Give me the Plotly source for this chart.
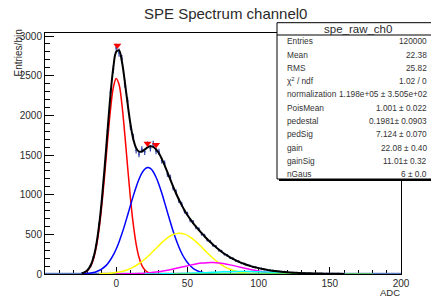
import math
import plotly.graph_objects as go

# ---------------- data ----------------
x_min, x_max = -50, 200
y_max = 3038
x_tick_vals = [0, 50, 100, 150, 200]

bin_x = list(range(-24, 121, 2)) + list(range(124, 161, 4))
data_counts = [12, 21, 55, 103, 212, 361, 628, 941, 1391, 1809, 2290, 2580,
               2850, 2790, 2710, 2400, 2180, 1860, 1725, 1560, 1510, 1572, 1540, 1630,
               1585, 1638, 1550, 1540, 1430, 1392, 1260, 1215, 1085, 1035, 925, 880,
               790, 758, 680, 655, 588, 566, 505, 484, 430, 412, 362, 346,
               300, 288, 249, 236, 204, 195, 166, 159, 136, 129, 110, 105,
               88, 86, 71, 68, 56, 54, 44, 43, 35, 34, 27, 27, 21,
               18, 13, 12, 7, 7, 4, 4, 2, 2, 1]
fit_total = [10.5, 24, 52, 107, 206, 368, 615, 953, 1370, 1826, 2262, 2605,
             2799, 2818, 2678, 2432, 2150, 1892, 1700, 1587, 1543, 1545, 1569, 1596,
             1609, 1602, 1571, 1521, 1452, 1370, 1282, 1192, 1102, 1018, 939, 868,
             802, 744, 691, 642, 597, 555, 515, 476, 439, 404, 370, 339,
             309, 281, 255, 231, 210, 190, 171, 155, 140, 126, 113, 102,
             92, 83, 74, 66, 59, 52, 46.5, 41, 36.6, 32.7, 29, 25.7, 22.7,
             17.1, 14, 11, 8.1, 6.5, 4.9, 3.7, 2.8, 2, 1.3]

ped_x = list(range(-24, 31, 2))
ped_y = [7.7, 19.2, 44.3, 94.5, 186, 338, 569, 885, 1272, 1689, 2073, 2351, 2465,
         2389, 2139, 1770, 1354, 957, 625, 378, 211, 109, 52, 22.8, 9.3, 3.5, 1.2, 0.4]

pe1_x = list(range(-24, 73, 2))
pe1_y = [2.6, 4.5, 7.4, 11.9, 18.8, 29, 43.8, 64.5, 92.8, 130.5, 179.3, 240.7,
         315.7, 404.5, 506, 619, 740, 864, 985, 1097, 1195, 1271, 1320, 1341,
         1330, 1289, 1220, 1129, 1020, 900, 777, 655, 539, 434, 341, 262,
         196, 144, 103, 72, 49, 33, 21.5, 13.7, 8.5, 5.2, 3.1, 1.8, 1.0]

pe2_x = list(range(-12, 105, 4))
pe2_y = [2.25, 4.75, 9.4, 17.8, 31.8, 53.6, 85.7, 129.9, 186.2, 252.7, 324.8, 395.4,
         455.7, 497.3, 514, 502.7, 465.8, 408.5, 339.3, 266.9, 198.8, 140.2, 93.6,
         59.2, 35.4, 20.1, 10.8, 5.5, 2.6, 1.2]

pe3_x = list(range(0, 141, 4))
pe3_y = [0.7, 1.3, 2.35, 4.1, 6.7, 10.7, 16.5, 24.3, 34.5, 47.2, 62.1, 78.6,
         95.7, 112.1, 126.4, 137.1, 143, 143.6, 138.7, 128.9, 115.2, 99.1, 82, 65.3,
         50, 36.9, 26.2, 17.9, 11.7, 7.4, 4.5, 2.6, 1.5, 0.8, 0.4, 0.2]

pe4_x = list(range(20, 161, 5))
pe4_y = [0.4, 0.74, 1.3, 2.2, 3.6, 5.5, 8.0, 11.2, 15.0, 19.1, 23.2, 27, 29.9, 31.6,
         32, 30.8, 28.3, 24.8, 20.8, 16.6, 12.7, 9.2, 6.4, 4.2, 2.7, 1.6, 0.9, 0.5, 0.3]

pe5_x = list(range(40, 181, 10))
pe5_y = [0.13, 0.35, 0.8, 1.6, 2.8, 4.1, 5.2, 5.7, 5.3, 4.3, 2.9, 1.7, 0.9, 0.4, 0.15]

peak_x = [0.8, 22, 28]
peak_y = [2880, 1645, 1630]

stat_labels = ["Entries", "Mean", "RMS", "\u03c7<sup>2</sup> / ndf", "normalization",
               "PoisMean", "pedestal", "pedSig", "gain", "gainSig", "nGaus"]
stat_values = ["120000", "22.38", "25.82", "1.02 / 0", "1.198e+05 \u00b1 3.505e+02",
               "1.001 \u00b1 0.022", "0.1981\u00b1 0.0903", "7.124 \u00b1 0.070",
               "22.08 \u00b1 0.40", "11.01\u00b1 0.32", "6 \u00b1 0.0"]

# ---------------- layout geometry (pixels) ----------------
W, H = 431, 300
L, R, T, B = 45, 30, 33, 26
PW, PH = W - L - R, H - T - B


def px(xp):
    return (xp - L) / PW


def py(yp):
    return (H - B - yp) / PH


FONT = "Liberation Sans, Arial, Helvetica, sans-serif"
TXT = "#2a2a2a"

fig = go.Figure()

comp_colors = ["#ff0000", "#0000ff", "#ffff00", "#ff00ff", "#00ffff", "#59d454"]
comps = [(ped_x, ped_y), (pe1_x, pe1_y), (pe2_x, pe2_y), (pe3_x, pe3_y),
         (pe4_x, pe4_y), (pe5_x, pe5_y)]

fig.add_trace(go.Scatter(x=[x_min, x_max], y=[0, 0], mode="lines",
                         line=dict(color="#5b7cc0", width=2.5), hoverinfo="skip"))

for (cx, cy), col in zip(comps, comp_colors):
    fig.add_trace(go.Scatter(x=cx, y=cy, mode="lines",
                             line=dict(color=col, width=1.5, shape="spline"),
                             hoverinfo="skip"))

fig.add_trace(go.Scatter(x=bin_x, y=data_counts, mode="markers",
                         marker=dict(color="#3347b0", size=2),
                         error_y=dict(type="data", array=[math.sqrt(v) for v in data_counts],
                                      color="#3347b0", thickness=1.2, width=0),
                         hoverinfo="skip"))

fig.add_trace(go.Scatter(x=bin_x, y=fit_total, mode="lines",
                         line=dict(color="black", width=2, shape="spline"),
                         hoverinfo="skip"))

fig.add_trace(go.Scatter(x=peak_x, y=peak_y, mode="markers",
                         marker=dict(symbol="triangle-down", color="#ff0000", size=7),
                         hoverinfo="skip"))

# stats box
shapes = [
    dict(type="rect", xref="paper", yref="paper", x0=px(279), x1=px(440),
         y0=py(181), y1=py(24.5), fillcolor="black", line=dict(width=0)),
    dict(type="rect", xref="paper", yref="paper", x0=px(277), x1=px(438),
         y0=py(179), y1=py(22.7), fillcolor="white", line=dict(color="black", width=1)),
    dict(type="line", xref="paper", yref="paper", x0=px(277), x1=px(438),
         y0=py(35), y1=py(35), line=dict(color="black", width=1)),
]

ann = []
ann.append(dict(text="SPE Spectrum channel0", xref="paper", yref="paper",
                x=px(225), y=py(13), xanchor="center", yanchor="middle", showarrow=False,
                font=dict(family=FONT, size=15, color=TXT)))
ann.append(dict(text="spe_raw_ch0", xref="paper", yref="paper",
                x=px(358), y=py(28.5), xanchor="center", yanchor="middle", showarrow=False,
                font=dict(family=FONT, size=11.5, color=TXT)))
row0, dy = 41.2, 13.3
for i, (lab, val) in enumerate(zip(stat_labels, stat_values)):
    yy = py(row0 + i * dy)
    ann.append(dict(text=lab, xref="paper", yref="paper", x=px(285), y=yy,
                    xanchor="left", yanchor="middle", showarrow=False,
                    font=dict(family=FONT, size=8.3, color="#333333")))
    ann.append(dict(text=val, xref="paper", yref="paper", x=px(429.5), y=yy,
                    xanchor="right", yanchor="middle", showarrow=False,
                    font=dict(family=FONT, size=8.3, color="#333333")))
ann.append(dict(text="Entries/bin", xref="paper", yref="paper", x=px(18), y=py(28),
                xanchor="center", yanchor="top", textangle=-90, showarrow=False,
                font=dict(family=FONT, size=10, color=TXT)))
ann.append(dict(text="ADC", xref="paper", yref="paper", x=px(402), y=py(292),
                xanchor="right", yanchor="middle", showarrow=False,
                font=dict(family=FONT, size=9.5, color=TXT)))

fig.update_layout(
    width=W, height=H,
    margin=dict(l=L, r=R, t=T, b=B, pad=0),
    paper_bgcolor="white", plot_bgcolor="white",
    showlegend=False,
    shapes=shapes, annotations=ann,
    xaxis=dict(range=[x_min, x_max], showgrid=False, zeroline=False,
               showline=True, linecolor="black", linewidth=1, mirror=True,
               ticks="inside", ticklen=7, tickcolor="black",
               tickvals=x_tick_vals, ticktext=[str(v) for v in x_tick_vals],
               minor=dict(dtick=10, tick0=0, ticks="inside", ticklen=4, tickcolor="black"),
               tickfont=dict(family=FONT, size=10, color=TXT), layer="below traces"),
    yaxis=dict(range=[0, y_max], showgrid=False, zeroline=False,
               showline=True, linecolor="black", linewidth=1, mirror=True,
               ticks="inside", ticklen=9, tickcolor="black", dtick=500, tick0=0,
               minor=dict(dtick=100, ticks="inside", ticklen=5, tickcolor="black"),
               tickfont=dict(family=FONT, size=10, color=TXT), layer="below traces"),
)

fig.write_html("out.html", config={"displayModeBar": False},
               post_script="document.body.style.margin='0px';document.body.style.overflow='hidden';")
